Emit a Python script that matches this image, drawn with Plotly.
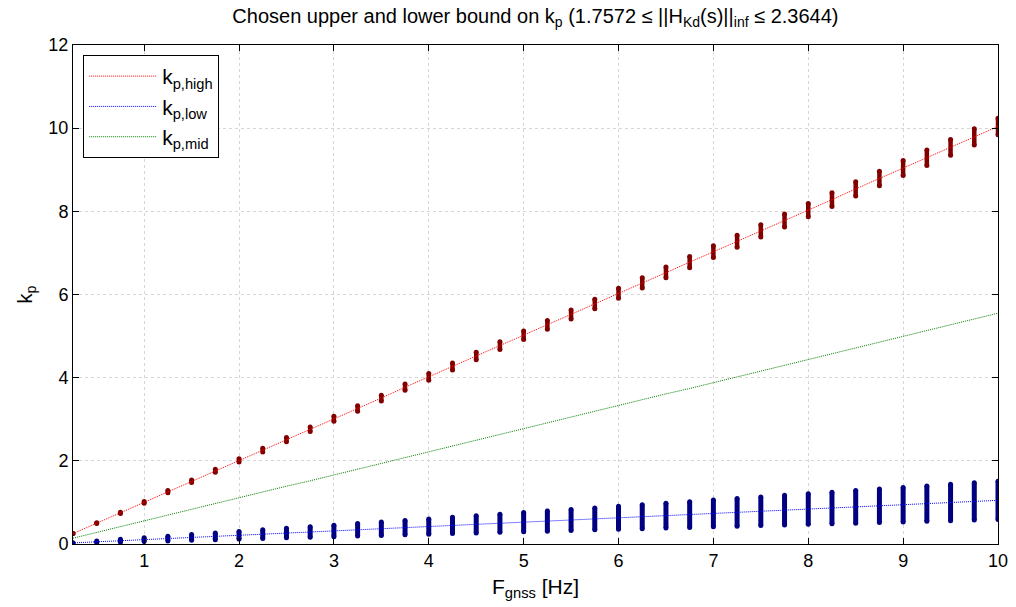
import plotly.graph_objects as go

# ---- data ----
f_gnss = [0.25, 0.5, 0.75, 1.0, 1.25, 1.5, 1.75, 2.0, 2.25, 2.5, 2.75, 3.0, 3.25, 3.5, 3.75, 4.0,
          4.25, 4.5, 4.75, 5.0, 5.25, 5.5, 5.75, 6.0, 6.25, 6.5, 6.75, 7.0, 7.25, 7.5, 7.75, 8.0,
          8.25, 8.5, 8.75, 9.0, 9.25, 9.5, 9.75, 10.0]
kp_high = [0.25, 0.50, 0.75, 1.00, 1.26, 1.51, 1.76, 2.01, 2.26, 2.51, 2.76, 3.01, 3.26, 3.51, 3.77, 4.02,
           4.27, 4.52, 4.77, 5.02, 5.27, 5.52, 5.77, 6.03, 6.28, 6.53, 6.78, 7.03, 7.28, 7.53, 7.78, 8.03,
           8.28, 8.54, 8.79, 9.04, 9.29, 9.54, 9.79, 10.04]
kp_low = [0.026, 0.053, 0.079, 0.105, 0.131, 0.158, 0.184, 0.21, 0.236, 0.263, 0.289, 0.315, 0.341, 0.368,
          0.394, 0.42, 0.446, 0.473, 0.499, 0.525, 0.551, 0.578, 0.604, 0.63, 0.656, 0.683, 0.709, 0.735,
          0.761, 0.788, 0.814, 0.84, 0.866, 0.893, 0.919, 0.945, 0.971, 0.998, 1.024, 1.05]
kp_mid = [0.14, 0.28, 0.41, 0.55, 0.69, 0.83, 0.97, 1.11, 1.25, 1.39, 1.52, 1.66, 1.80, 1.94, 2.08, 2.22,
          2.36, 2.50, 2.63, 2.77, 2.91, 3.05, 3.19, 3.33, 3.47, 3.61, 3.74, 3.88, 4.02, 4.16, 4.30, 4.44,
          4.57, 4.71, 4.85, 4.99, 5.13, 5.27, 5.41, 5.55]
# half-spread of the scattered kp values at each frequency
high_spread = [0.0, 0.01, 0.015, 0.02, 0.025, 0.03, 0.035, 0.04, 0.045, 0.05, 0.055, 0.06, 0.065, 0.07,
               0.075, 0.08, 0.085, 0.09, 0.095, 0.10, 0.105, 0.11, 0.115, 0.12, 0.125, 0.13, 0.135, 0.14,
               0.145, 0.15, 0.155, 0.16, 0.165, 0.17, 0.175, 0.18, 0.185, 0.19, 0.195, 0.20]
low_spread = [0.0, 0.02, 0.035, 0.046, 0.058, 0.069, 0.08, 0.092, 0.104, 0.115, 0.126, 0.138, 0.15, 0.161,
              0.172, 0.184, 0.196, 0.207, 0.218, 0.23, 0.242, 0.253, 0.264, 0.276, 0.288, 0.299, 0.31,
              0.322, 0.334, 0.345, 0.356, 0.368, 0.38, 0.391, 0.402, 0.414, 0.426, 0.437, 0.448, 0.46]

x_ticks = [1, 2, 3, 4, 5, 6, 7, 8, 9, 10]
y_ticks = [0, 2, 4, 6, 8, 10, 12]


def bar_segments(xs, centers, spreads):
    bx, by = [], []
    for xv, c, s in zip(xs, centers, spreads):
        bx += [xv, xv, None]
        by += [c - s, c + s, None]
    return bx, by


FONT = "Liberation Sans, Arial, Helvetica, sans-serif"
fig = go.Figure()

rx, ry = bar_segments(f_gnss, kp_high, high_spread)
fig.add_trace(go.Scatter(x=rx, y=ry, mode="lines+markers", showlegend=False,
                         line=dict(color="#800000", width=4.5),
                         marker=dict(color="#800000", size=5), hoverinfo="skip"))
bx, by = bar_segments(f_gnss, kp_low, low_spread)
fig.add_trace(go.Scatter(x=bx, y=by, mode="lines+markers", showlegend=False,
                         line=dict(color="#000080", width=5),
                         marker=dict(color="#000080", size=5), hoverinfo="skip"))

fig.add_trace(go.Scatter(x=f_gnss, y=kp_high, mode="lines", name="k<sub>p,high</sub>",
                         line=dict(color="#ff0000", width=1, dash="1px,1px")))
fig.add_trace(go.Scatter(x=f_gnss, y=kp_low, mode="lines", name="k<sub>p,low</sub>",
                         line=dict(color="#0000ff", width=1, dash="1px,1px")))
fig.add_trace(go.Scatter(x=f_gnss, y=kp_mid, mode="lines", name="k<sub>p,mid</sub>",
                         line=dict(color="#008000", width=1, dash="1px,1px")))

axis_common = dict(showline=True, linecolor="black", linewidth=1, mirror="ticks",
                   ticks="inside", ticklen=6, tickcolor="black",
                   showgrid=True, gridcolor="#d6d6d6", griddash="dot", gridwidth=1,
                   zeroline=False, automargin=False,
                   tickfont=dict(family=FONT, size=18, color="black"))

fig.update_xaxes(range=[0.25, 10], tickvals=x_ticks, ticktext=[str(v) for v in x_ticks],
                 title=dict(text="F<sub>gnss</sub> [Hz]", font=dict(family=FONT, size=21, color="black"),
                            standoff=9),
                 **axis_common)
fig.update_yaxes(range=[0, 12], tickvals=y_ticks, ticktext=[str(v) for v in y_ticks],
                 title=dict(text="k<sub>p</sub>", font=dict(family=FONT, size=20, color="black"),
                            standoff=10),
                 **axis_common)

fig.update_layout(
    width=1016, height=607,
    margin=dict(l=73, r=18, t=45, b=63),
    paper_bgcolor="white", plot_bgcolor="white",
    font=dict(family=FONT, color="black"),
    title=dict(text="Chosen upper and lower bound on k<sub>p</sub> (1.7572 \u2264 ||H<sub>Kd</sub>(s)||<sub>inf</sub> \u2264 2.3644)",
               x=0.527, xanchor="center", y=0.985, yanchor="top",
               font=dict(family=FONT, size=20, color="black")),
    legend=dict(x=0.011, y=0.98, xanchor="left", yanchor="top",
                bgcolor="white", bordercolor="black", borderwidth=1,
                font=dict(family=FONT, size=21, color="black"),
                itemwidth=68, tracegroupgap=0),
    showlegend=True,
)

fig.write_html("out.html")
